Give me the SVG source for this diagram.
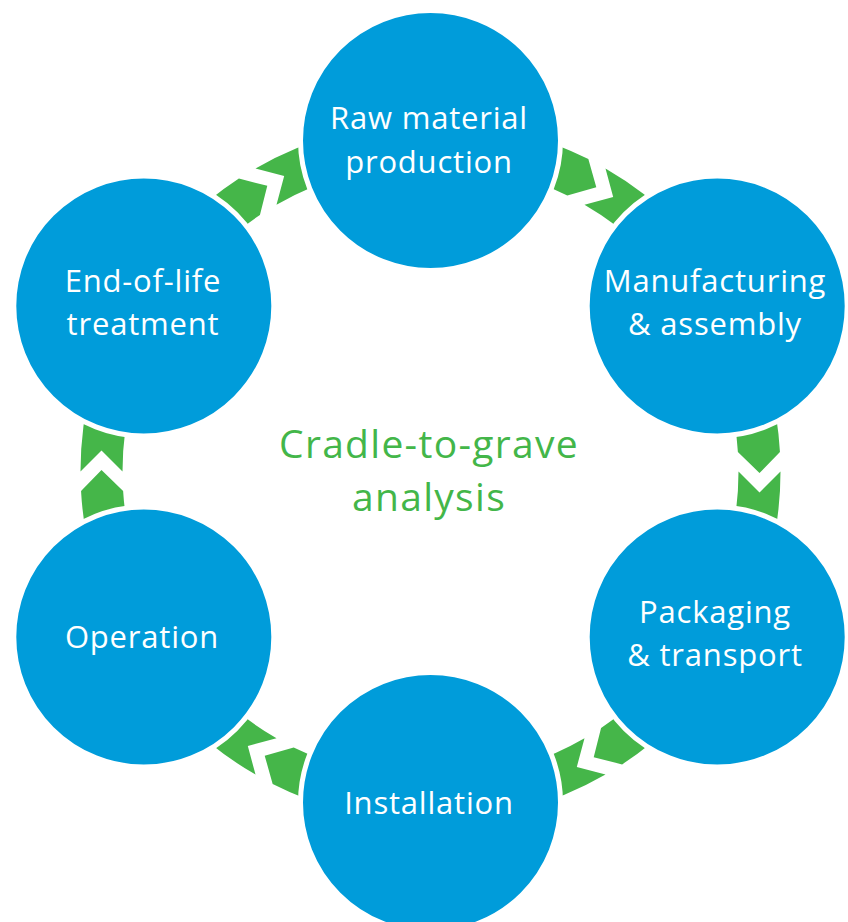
<svg xmlns="http://www.w3.org/2000/svg" xmlns:xlink="http://www.w3.org/1999/xlink" width="848" height="922" viewBox="0 0 848 922">
<style>
.node circle{fill:#009CDA;stroke:#ffffff;stroke-width:5}
.lbl{font-family:"Open Sans","Noto Sans","Liberation Sans",sans-serif;font-size:31px;letter-spacing:0.8px;fill:#ffffff;text-anchor:middle}
.center{font-family:"Open Sans","Noto Sans","Liberation Sans",sans-serif;font-size:39px;letter-spacing:1.3px;fill:#43B649;text-anchor:middle}
.arr{fill:#45B649}
</style>
<defs>
<g id="arrow">
<path d="M 338.07,-90.59 A 350 350 0 0 1 349.46,-19.5 L 329,1.5 L 307.38,-19.5 A 308 308 0 0 0 297.5,-79.72 Z"/>
<path d="M 350,0 L 329,21 L 308,0 A 308 308 0 0 1 297.5,79.72 L 338.07,90.59 A 350 350 0 0 0 350,0 Z"/>
</g>
</defs>
<rect width="848" height="922" fill="#ffffff"/>
<g id="connectors" class="arr" fill="#45B649" transform="translate(430.5 471.5)">
<use xlink:href="#arrow" transform="rotate(300)"/>
<use xlink:href="#arrow" transform="rotate(0)"/>
<use xlink:href="#arrow" transform="rotate(60)"/>
<use xlink:href="#arrow" transform="rotate(120)"/>
<use xlink:href="#arrow" transform="rotate(180)"/>
<use xlink:href="#arrow" transform="rotate(240)"/>
</g>
<g id="raw-material" class="node">
<circle cx="430.5" cy="140.5" r="130"/>
<text class="lbl" x="429" y="129">Raw material</text>
<text class="lbl" x="429" y="173">production</text>
</g>
<g id="manufacturing" class="node">
<circle cx="717.2" cy="306" r="130"/>
<text class="lbl" x="715" y="292">Manufacturing</text>
<text class="lbl" x="715" y="335">&amp; assembly</text>
</g>
<g id="packaging" class="node">
<circle cx="717.2" cy="637" r="130"/>
<text class="lbl" x="715" y="623">Packaging</text>
<text class="lbl" x="715" y="666">&amp; transport</text>
</g>
<g id="installation" class="node">
<circle cx="430.5" cy="802.5" r="130"/>
<text class="lbl" x="429" y="814">Installation</text>
</g>
<g id="operation" class="node">
<circle cx="143.8" cy="637" r="130"/>
<text class="lbl" x="142" y="648">Operation</text>
</g>
<g id="end-of-life" class="node">
<circle cx="143.8" cy="306" r="130"/>
<text class="lbl" x="143" y="292">End-of-life</text>
<text class="lbl" x="143" y="335">treatment</text>
</g>
<g id="title">
<text class="center" x="429" y="458">Cradle-to-grave</text>
<text class="center" x="429" y="511">analysis</text>
</g>
</svg>
